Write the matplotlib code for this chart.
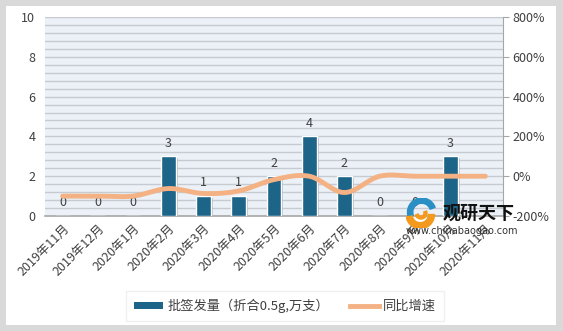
import numpy as np
import matplotlib
matplotlib.use('Agg')
import matplotlib.pyplot as plt
from matplotlib.patches import Rectangle, Wedge
from matplotlib.lines import Line2D
import matplotlib.patheffects as pe

plt.rcParams['font.family'] = ['Noto Sans CJK SC', 'DejaVu Sans']

months = ['2019年11月', '2019年12月', '2020年1月', '2020年2月', '2020年3月', '2020年4月',
          '2020年5月', '2020年6月', '2020年7月', '2020年8月', '2020年9月', '2020年10月', '2020年11月']
volume = [0, 0, 0, 3, 1, 1, 2, 4, 2, 0, 0, 3, None]
growth = [-100, -100, -100, -62, -87, -74, -17, 0, -82, 0, 0, 0, 0]

bar_color = '#1c6488'
line_color = '#f4b183'
text_color = '#404040'


def smooth(xs, ys, n=20):
    # catmull-rom through the points, like excel's smoothed line
    xs = np.asarray(xs, float)
    ys = np.asarray(ys, float)
    px = np.concatenate([[2 * xs[0] - xs[1]], xs, [2 * xs[-1] - xs[-2]]])
    py = np.concatenate([[2 * ys[0] - ys[1]], ys, [2 * ys[-1] - ys[-2]]])
    outx, outy = [], []
    t = np.linspace(0, 1, n, endpoint=False)
    for i in range(1, len(px) - 2):
        for p, out in ((px, outx), (py, outy)):
            p0, p1, p2, p3 = p[i - 1], p[i], p[i + 1], p[i + 2]
            out.extend(0.5 * ((2 * p1) + (-p0 + p2) * t + (2 * p0 - 5 * p1 + 4 * p2 - p3) * t ** 2
                              + (-p0 + 3 * p1 - 3 * p2 + p3) * t ** 3))
    outx.append(xs[-1])
    outy.append(ys[-1])
    return np.array(outx), np.array(outy)


fig = plt.figure(figsize=(5.63, 3.31), dpi=100, facecolor='#d9d9d9')
fig.patches.append(Rectangle((6 / 563, 6 / 331), 550 / 563, 319 / 331, transform=fig.transFigure,
                             facecolor='white', edgecolor='none', zorder=-5))

ax = fig.add_axes([45 / 563, 1 - 216 / 331, 458 / 563, 199 / 331])
ax.set_zorder(1)
ax.set_facecolor('#ebf1f7')
x = np.arange(len(months))

for yv in np.arange(0.4, 10.01, 0.4):
    ax.axhline(yv, color='#c5cbd1', lw=1.0, zorder=0)

vals = [v if v is not None else 0 for v in volume]
bars = ax.bar(x, vals, width=0.42, color=bar_color, edgecolor='white', linewidth=1, zorder=3)
for b in bars:
    b.set_path_effects([pe.SimplePatchShadow(offset=(1.5, -1.5), shadow_rgbFace='#9aa4ad', alpha=0.6),
                        pe.Normal()])
for xi, v in zip(x, volume):
    if v is None:
        continue
    ax.annotate(str(v), (xi, v), xytext=(0, 9.5), textcoords='offset points',
                ha='center', va='center', fontsize=9, color=text_color, zorder=5)

ax.set_xlim(-0.5, len(months) - 0.5)
ax.set_ylim(0, 10)
ax.set_yticks(range(0, 11, 2))
ax.set_xticks(x)
ax.set_xticklabels(months, rotation=45, ha='right', rotation_mode='anchor', fontsize=9, color=text_color)
ax.tick_params(axis='x', length=0, pad=4)
ax.tick_params(axis='y', length=0, labelsize=9, labelcolor=text_color, pad=7)
for s in ['top', 'left', 'right']:
    ax.spines[s].set_visible(False)
ax.spines['bottom'].set_color('#a6a6a6')
ax.spines['bottom'].set_linewidth(1.2)

ax2 = ax.twinx()
ax2.set_zorder(2)
ax2.patch.set_visible(False)
sx, sy = smooth(x, growth)
ax2.plot(sx, sy, color=line_color, lw=3.5, solid_capstyle='round', zorder=4)
ax2.set_ylim(-200, 800)
ax2.set_yticks(range(-200, 801, 200))
ax2.set_yticklabels([f'{v}%' for v in range(-200, 801, 200)])
ax2.tick_params(axis='y', length=4, color='#a6a6a6', labelsize=9, labelcolor=text_color, pad=3)
for s in ['top', 'left', 'bottom']:
    ax2.spines[s].set_visible(False)
ax2.spines['right'].set_color('#a6a6a6')

# watermark: logo swirl + name + url
wm = fig.add_axes([403 / 563, 1 - 228 / 331, 36 / 563, 30 / 331], zorder=10)
wm.set_xlim(-1, 1)
wm.set_ylim(-1, 1)
wm.set_aspect('equal')
wm.axis('off')
wm.add_patch(Wedge((0.05, 0.05), 0.95, 20, 200, width=0.35, color='#2a8fc4'))
wm.add_patch(Wedge((-0.05, -0.1), 0.95, 190, 360, width=0.4, color='#f39a1e'))
wm.add_patch(Wedge((0.0, 0.0), 0.4, 200, 380, width=0.2, color='#f39a1e'))
fig.text(443 / 563, 1 - 213 / 331, '观研天下', fontsize=13, fontweight='bold', color='#111111',
         ha='left', va='center', zorder=10)
fig.text(462 / 563, 1 - 231 / 331, 'www.chinabaogao.com', fontsize=7, color='#333333',
         ha='center', va='center', zorder=10, family='DejaVu Sans')

handles = [Rectangle((0, 0), 1, 1, facecolor=bar_color, edgecolor='none'),
           Line2D([0], [0], color=line_color, lw=3.5)]
leg = fig.legend(handles, ['批签发量（折合0.5g,万支）', '同比增速'], loc='center',
                 bbox_to_anchor=(285 / 563, 1 - 306 / 331), ncol=2, frameon=True, fontsize=9.5,
                 handlelength=2.2, handleheight=0.45, handletextpad=0.3, columnspacing=1.6,
                 fancybox=False, borderpad=0.6)
leg.get_frame().set_edgecolor('#ececec')
leg.set_zorder(10)
for t in leg.get_texts():
    t.set_color(text_color)

fig.savefig('out.png', dpi=100, facecolor=fig.get_facecolor())
